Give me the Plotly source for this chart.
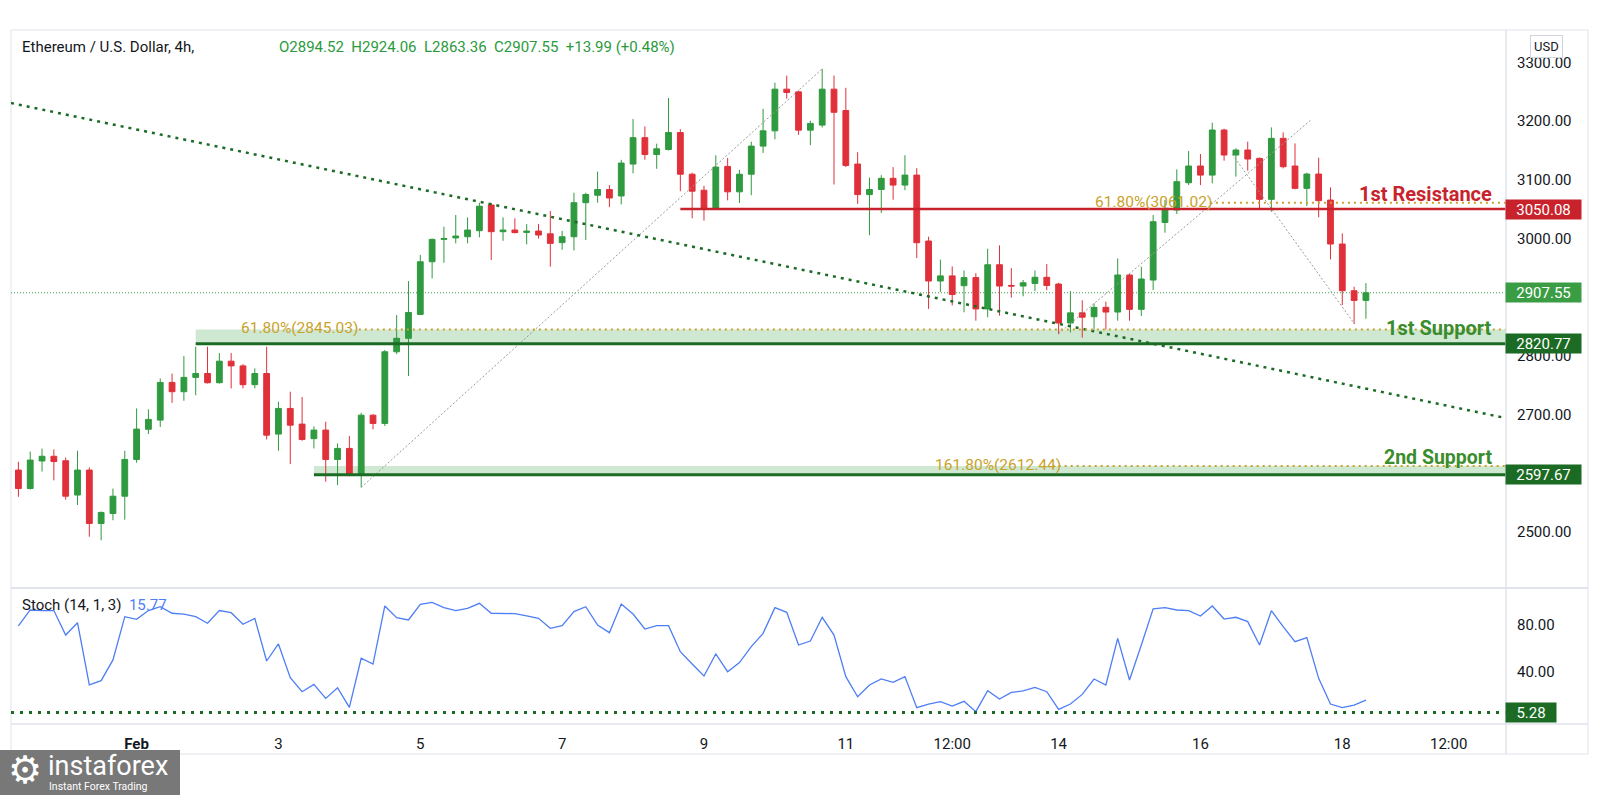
import pandas as pd
import plotly.graph_objects as go

W, H = 1600, 795
FONT = "Roboto, 'Noto Sans', sans-serif"

# ---------------- data ----------------
start_time = "2025-01-30 08:00"
opens = [2605.5, 2574.0, 2621.0, 2629.0, 2621.4, 2563.0, 2605.5, 2514.6, 2531.6, 2561.0,
         2623.6, 2675.0, 2690.6, 2754.8, 2739.0, 2763.4, 2770.0, 2754.3, 2791.0, 2783.0,
         2751.0, 2770.0, 2666.8, 2710.5, 2683.8, 2659.0, 2673.6, 2623.6, 2642.4, 2597.0,
         2699.0, 2685.0, 2807.0, 2830.0, 2870.7, 2960.4, 2998.5, 3001.0, 3003.0, 3013.3,
         3057.0, 3011.6, 3014.4, 3010.4, 3012.7, 3008.0, 2993.0, 3003.0, 3061.0, 3073.7,
         3083.5, 3072.5, 3126.8, 3171.8, 3143.0, 3151.6, 3180.5, 3109.5, 3082.3, 3051.7,
         3122.8, 3079.5, 3109.5, 3157.4, 3183.4, 3254.4, 3249.8, 3184.6, 3193.2, 3254.4,
         3218.0, 3126.8, 3074.8, 3083.5, 3102.5, 3091.0, 3108.0, 2995.7, 2927.6, 2936.3,
         2919.6, 2933.4, 2880.0, 2955.3, 2920.0, 2919.0, 2923.5, 2933.9, 2922.4, 2856.0,
         2873.3, 2866.8, 2882.7, 2874.7, 2937.8, 2879.3, 2929.2, 3027.3, 3048.5, 3095.0,
         3123.5, 3108.0, 3184.8, 3142.2, 3150.7, 3136.5, 3066.7, 3170.6, 3123.5, 3085.4,
         3109.8, 3065.5, 2990.6, 2911.0, 2894.52]
highs = [2619.6, 2637.0, 2642.0, 2640.6, 2627.0, 2638.4, 2610.0, 2535.0, 2574.0, 2638.4,
         2710.5, 2709.0, 2761.6, 2770.0, 2799.7, 2815.6, 2815.6, 2805.0, 2805.0, 2786.0,
         2778.7, 2815.6, 2722.0, 2739.0, 2730.0, 2680.0, 2687.8, 2651.0, 2663.4, 2703.0,
         2701.0, 2810.0, 2869.6, 2927.5, 2972.0, 3000.0, 3020.0, 3040.0, 3036.0, 3061.0,
         3060.0, 3036.0, 3034.3, 3024.6, 3024.6, 3046.8, 3013.0, 3078.0, 3078.0, 3114.0,
         3091.0, 3134.0, 3203.5, 3191.0, 3161.5, 3239.4, 3186.3, 3112.0, 3089.8, 3141.8,
         3137.2, 3117.0, 3165.0, 3221.0, 3265.4, 3277.5, 3252.0, 3200.7, 3289.0, 3277.5,
         3256.7, 3147.0, 3103.7, 3108.0, 3121.6, 3141.8, 3119.8, 3003.2, 2964.0, 2952.4,
         2945.5, 2940.9, 2982.5, 2988.3, 2949.5, 2929.3, 2945.5, 2956.4, 2924.6, 2910.3,
         2894.7, 2889.5, 2892.3, 2966.1, 2940.0, 2952.0, 3040.0, 3065.5, 3117.8, 3149.0,
         3143.9, 3197.3, 3187.0, 3153.6, 3164.9, 3138.0, 3189.3, 3180.8, 3162.0, 3112.0,
         3137.6, 3087.1, 3008.7, 2917.9, 2924.06]
lows = [2560.0, 2572.5, 2603.0, 2588.0, 2555.0, 2546.0, 2492.0, 2486.0, 2520.0, 2521.0,
        2618.0, 2667.0, 2679.0, 2720.0, 2723.6, 2733.0, 2753.0, 2753.0, 2744.6, 2744.6,
        2744.6, 2657.7, 2638.4, 2615.6, 2655.4, 2642.4, 2585.6, 2580.0, 2595.0, 2576.0,
        2675.0, 2680.5, 2803.0, 2765.6, 2869.6, 2932.0, 2958.7, 2991.7, 2991.7, 3002.0,
        2963.3, 2996.0, 3009.0, 2990.0, 3000.0, 2952.0, 2981.0, 2979.6, 2997.5, 3061.0,
        3053.5, 3058.0, 3111.0, 3134.0, 3118.7, 3150.0, 3080.6, 3034.4, 3030.4, 3050.6,
        3065.0, 3060.4, 3073.7, 3145.8, 3169.0, 3238.3, 3176.5, 3159.0, 3189.0, 3092.0,
        3121.6, 3059.0, 3005.5, 3043.6, 3066.0, 3082.3, 2966.8, 2880.0, 2909.0, 2886.0,
        2874.3, 2860.0, 2865.8, 2868.6, 2899.3, 2901.6, 2910.3, 2912.0, 2837.0, 2840.0,
        2831.2, 2845.0, 2845.0, 2860.0, 2860.0, 2867.9, 2912.2, 3009.9, 3041.7, 3091.0,
        3091.0, 3094.0, 3132.6, 3105.3, 3115.5, 3049.6, 3045.6, 3119.5, 3083.7, 3055.3,
        3036.0, 2964.4, 2886.6, 2854.3, 2863.36]
closes = [2574.0, 2622.5, 2629.0, 2620.0, 2561.0, 2605.5, 2514.6, 2533.3, 2561.0, 2623.6,
          2675.3, 2691.8, 2754.8, 2739.0, 2763.4, 2770.0, 2754.3, 2791.0, 2783.0, 2751.0,
          2770.0, 2665.0, 2710.5, 2682.0, 2657.7, 2673.6, 2623.6, 2642.4, 2598.6, 2699.0,
          2685.0, 2807.0, 2830.0, 2874.0, 2960.4, 2998.5, 3000.0, 3004.2, 3014.4, 3055.0,
          3011.6, 3014.4, 3010.0, 3012.6, 3005.9, 2991.7, 3003.0, 3061.0, 3075.0, 3083.5,
          3069.0, 3128.5, 3171.8, 3143.0, 3152.8, 3180.5, 3109.5, 3080.6, 3051.7, 3121.6,
          3079.5, 3109.5, 3157.4, 3183.4, 3254.4, 3248.7, 3184.6, 3196.0, 3254.4, 3215.0,
          3124.5, 3074.8, 3083.5, 3102.5, 3091.0, 3108.0, 2992.8, 2927.6, 2936.3, 2904.5,
          2933.4, 2880.0, 2955.3, 2919.0, 2919.0, 2924.6, 2933.9, 2920.0, 2856.0, 2873.3,
          2866.0, 2882.7, 2874.7, 2937.8, 2879.3, 2931.0, 3028.6, 3051.3, 3096.8, 3123.5,
          3108.0, 3184.8, 3142.2, 3150.7, 3135.4, 3066.7, 3170.6, 3122.3, 3085.4, 3109.8,
          3064.4, 2990.6, 2911.0, 2894.52, 2907.55]
stoch = [78.9, 92.5, 92.0, 92.0, 71.2, 81.7, 28.7, 32.4, 50.0, 86.8,
         84.5, 92.0, 95.3, 89.7, 89.0, 86.8, 81.2, 92.0, 90.2, 80.3,
         85.4, 49.1, 63.6, 34.9, 23.0, 29.2, 17.3, 26.4, 9.7, 51.4,
         46.5, 95.9, 86.0, 84.0, 97.3, 99.0, 94.5, 92.0, 93.9, 98.2,
         89.7, 89.7, 89.4, 87.4, 85.4, 76.9, 79.2, 91.1, 95.3, 79.7,
         73.2, 97.6, 89.1, 76.3, 79.2, 79.2, 57.0, 46.5, 36.3, 55.1,
         40.0, 47.7, 61.3, 72.6, 94.5, 90.5, 62.7, 66.1, 86.3, 71.2,
         35.8, 18.7, 28.7, 33.8, 30.9, 35.8, 9.4, 12.5, 14.5, 10.8,
         14.8, 6.0, 23.8, 16.7, 22.4, 23.6, 26.7, 23.0, 8.0, 12.5,
         20.7, 33.8, 28.7, 68.4, 32.9, 62.7, 93.4, 94.5, 92.5, 92.0,
         87.4, 95.9, 84.8, 86.3, 82.6, 62.7, 91.9, 78.3, 65.5, 69.0,
         34.3, 12.5, 9.4, 11.6, 15.77]

last_price = 2907.55
resistance1 = 3050.08
support1 = 2820.77
support2 = 2597.67
fib_res = 3061.02
fib_sup1 = 2845.03
fib_sup2 = 2612.44
stoch_level = 5.28
stoch_last = 15.77

header_title = "Ethereum / U.S. Dollar, 4h,"
header_values = ["O2894.52", "H2924.06", "L2863.36", "C2907.55", "+13.99 (+0.48%)"]

tick_times = ["2025-02-01 00:00", "2025-02-03 00:00", "2025-02-05 00:00", "2025-02-07 00:00",
              "2025-02-09 00:00", "2025-02-11 00:00", "2025-02-12 12:00", "2025-02-14 00:00",
              "2025-02-16 00:00", "2025-02-18 00:00", "2025-02-19 12:00"]
tick_labels = ["<b>Feb</b>", "3", "5", "7", "9", "11", "12:00", "14", "16", "18", "12:00"]
price_ticks = [2500, 2700, 2800, 3000, 3100, 3200, 3300]
stoch_ticks = [40, 80]

# drawing anchors (fractional candle index, price)
trend_line = [(-0.626, 3230.8), (125.85, 2694.0)]
fib_lines = [[(29, 2576.0), (68, 3289.0)],
             [(88, 2838.0), (109.3, 3201.0)],
             [(102.7, 3143.0), (113.05, 2854.0)]]
# (label start index, dotted-line start index, level, percent)
fib_levels = [(90.9, 100.8, fib_res, "61.80%"),
              (18.66, 28.8, fib_sup1, "61.80%"),
              (77.4, 87.5, fib_sup2, "161.80%")]

times = pd.date_range(start_time, periods=len(opens), freq="4h")


def t_at(idx):
    return times[0] + pd.Timedelta(hours=4 * idx)


def px(X):
    return X / W


def py(Y):
    return 1 - Y / H


# ---------------- colours ----------------
C_UP = "#2f9a3f"
C_DN = "#e0303a"
C_RES = "#c8232c"
C_DKG = "#1c6b25"
C_LAST = "#3a9d44"
C_GOLD = "#c9a22a"
C_ZONE = "rgba(70,165,80,0.26)"
C_STOCH = "#4d7ef5"
C_TXT = "#131722"
C_FRAME = "#e0e3eb"

x_left = t_at(-0.626)
x_right = t_at(125.85)

fig = go.Figure()

fig.add_trace(go.Candlestick(
    x=times, open=opens, high=highs, low=lows, close=closes,
    increasing=dict(line=dict(color=C_UP, width=1), fillcolor=C_UP),
    decreasing=dict(line=dict(color=C_DN, width=1), fillcolor=C_DN),
    hoverinfo="skip", showlegend=False, xaxis="x", yaxis="y"))

fig.add_trace(go.Scatter(
    x=times, y=stoch, mode="lines", line=dict(color=C_STOCH, width=1.3),
    hoverinfo="skip", showlegend=False, xaxis="x", yaxis="y2"))

shapes = []
# zones
shapes.append(dict(type="rect", xref="x", yref="y", x0=times[15], x1=x_right,
                   y0=support1, y1=fib_sup1, fillcolor=C_ZONE, line=dict(width=0), layer="below"))
shapes.append(dict(type="rect", xref="x", yref="y", x0=times[25], x1=x_right,
                   y0=support2, y1=fib_sup2, fillcolor=C_ZONE, line=dict(width=0), layer="below"))
# last price dotted
shapes.append(dict(type="line", xref="x", yref="y", x0=x_left, x1=x_right, y0=last_price, y1=last_price,
                   line=dict(color=C_LAST, width=1, dash="1px,2px"), layer="below"))
# gray fib trend lines
for (a, b) in fib_lines:
    shapes.append(dict(type="line", xref="x", yref="y", x0=t_at(a[0]), y0=a[1], x1=t_at(b[0]), y1=b[1],
                       line=dict(color="#9a9a9a", width=1, dash="2px,2px")))
# main dotted trendline
shapes.append(dict(type="line", xref="x", yref="y",
                   x0=t_at(trend_line[0][0]), y0=trend_line[0][1],
                   x1=t_at(trend_line[1][0]), y1=trend_line[1][1],
                   line=dict(color=C_DKG, width=2.5, dash="3px,5px")))
# golden fib levels
for lab_i, line_i, lvl, pct in fib_levels:
    shapes.append(dict(type="line", xref="x", yref="y", x0=t_at(line_i), x1=x_right, y0=lvl, y1=lvl,
                       line=dict(color=C_GOLD, width=2, dash="2px,4px")))
# level lines
shapes.append(dict(type="line", xref="x", yref="y", x0=times[56], x1=x_right, y0=resistance1, y1=resistance1,
                   line=dict(color=C_RES, width=2.5)))
shapes.append(dict(type="line", xref="x", yref="y", x0=times[15], x1=x_right, y0=support1, y1=support1,
                   line=dict(color=C_DKG, width=3)))
shapes.append(dict(type="line", xref="x", yref="y", x0=times[25], x1=x_right, y0=support2, y1=support2,
                   line=dict(color=C_DKG, width=3)))
# stoch level
shapes.append(dict(type="line", xref="x", yref="y2", x0=x_left, x1=x_right, y0=stoch_level, y1=stoch_level,
                   line=dict(color=C_DKG, width=3, dash="3px,6px")))
# frame
shapes.append(dict(type="rect", xref="paper", yref="paper", x0=px(11), x1=px(1588), y0=py(754), y1=py(30),
                   line=dict(color=C_FRAME, width=1), layer="below"))
shapes.append(dict(type="line", xref="paper", yref="paper", x0=px(1506), x1=px(1506), y0=py(754), y1=py(30),
                   line=dict(color=C_FRAME, width=1.5)))
shapes.append(dict(type="line", xref="paper", yref="paper", x0=px(11), x1=px(1588), y0=py(588), y1=py(588),
                   line=dict(color=C_FRAME, width=2)))
shapes.append(dict(type="line", xref="paper", yref="paper", x0=px(11), x1=px(1588), y0=py(724), y1=py(724),
                   line=dict(color=C_FRAME, width=1.5)))
# logo box
shapes.append(dict(type="rect", xref="paper", yref="paper", x0=px(0), x1=px(180), y0=py(795), y1=py(750),
                   fillcolor="#787878", line=dict(width=0), layer="above"))

ann = []
# header
ann.append(dict(xref="paper", yref="paper", x=px(20), y=py(47), xanchor="left", yanchor="middle",
                text=header_title, showarrow=False, font=dict(family=FONT, size=15, color=C_TXT)))
ann.append(dict(xref="paper", yref="paper", x=px(277), y=py(47), xanchor="left", yanchor="middle",
                text="&nbsp;&nbsp;".join(header_values), showarrow=False,
                font=dict(family=FONT, size=15, color="#2a9a3c")))
# stoch label
ann.append(dict(xref="paper", yref="paper", x=px(20), y=py(605), xanchor="left", yanchor="middle",
                text="Stoch (14, 1, 3)&nbsp;&nbsp;<span style='color:%s'>%.2f</span>" % (C_STOCH, stoch_last),
                showarrow=False, font=dict(family=FONT, size=15, color=C_TXT)))
# USD
ann.append(dict(xref="paper", yref="paper", x=px(1546), y=py(47), xanchor="center", yanchor="middle",
                text="USD", showarrow=False, bgcolor="white", bordercolor="#d1d4dc", borderwidth=1,
                borderpad=3, font=dict(family=FONT, size=13, color=C_TXT)))
# fib labels
for lab_i, line_i, lvl, pct in fib_levels:
    ann.append(dict(xref="x", yref="y", x=t_at(lab_i), y=lvl, xanchor="left", yanchor="middle",
                    text="%s(%.2f)" % (pct, lvl), showarrow=False, yshift=1,
                    font=dict(family=FONT, size=15.5, color=C_GOLD)))
# level names
for lvl, txt, col, ys, fs in [(fib_res, "1st Resistance", C_RES, 8.5, 20),
                              (fib_sup1, "1st Support", "#3b8c2c", 1.5, 20),
                              (fib_sup2, "2nd Support", "#3b8c2c", 9, 19.5)]:
    ann.append(dict(xref="paper", yref="y", x=px(1494), y=lvl, xanchor="right", yanchor="middle",
                    text="<b>%s</b>" % txt, showarrow=False, yshift=ys,
                    font=dict(family=FONT, size=fs, color=col)))
# axis boxes
for lvl, col in [(resistance1, C_RES), (last_price, C_LAST), (support1, C_DKG), (support2, C_DKG)]:
    ann.append(dict(xref="paper", yref="y", x=px(1505), y=lvl, xanchor="left", yanchor="middle",
                    text="%.2f" % lvl, showarrow=False, bgcolor=col, width=73, height=17,
                    borderpad=1, align="center", font=dict(family=FONT, size=15, color="white")))
ann.append(dict(xref="paper", yref="y2", x=px(1505), y=stoch_level, xanchor="left", yanchor="middle",
                text="%.2f" % stoch_level, showarrow=False, bgcolor=C_DKG, width=48, height=17,
                borderpad=1, align="center", font=dict(family=FONT, size=15, color="white")))
# logo
ann.append(dict(xref="paper", yref="paper", x=px(25), y=py(770), xanchor="center", yanchor="middle",
                text="\u2699", showarrow=False, font=dict(family="DejaVu Sans", size=38, color="white")))
ann.append(dict(xref="paper", yref="paper", x=px(46), y=py(766), xanchor="left", yanchor="middle",
                text="instaforex", showarrow=False, font=dict(family=FONT, size=27, color="white")))
ann.append(dict(xref="paper", yref="paper", x=px(47), y=py(786), xanchor="left", yanchor="middle",
                text="Instant Forex Trading", showarrow=False, font=dict(family=FONT, size=10.5, color="white")))

axis_font = dict(family=FONT, size=15, color=C_TXT)
fig.update_layout(
    width=W, height=H, autosize=False,
    margin=dict(l=0, r=0, t=0, b=0, pad=0),
    paper_bgcolor="white", plot_bgcolor="white",
    showlegend=False,
    shapes=shapes, annotations=ann,
    xaxis=dict(domain=[px(11), px(1506)], range=[x_left, x_right], anchor="y2",
               showgrid=False, zeroline=False, showline=False, ticks="",
               tickmode="array", tickvals=tick_times, ticktext=tick_labels,
               tickfont=axis_font, ticklabelstandoff=9,
               rangeslider=dict(visible=False), fixedrange=True),
    yaxis=dict(domain=[py(588), py(30)], range=[2404.6, 3355.2], side="right", anchor="x",
               showgrid=False, zeroline=False, showline=False, ticks="",
               tickmode="array", tickvals=price_ticks,
               ticktext=["%.2f" % v for v in price_ticks],
               tickfont=axis_font, ticklabelstandoff=10),
    yaxis2=dict(domain=[py(724), py(588)], range=[-4.5, 111.2], side="right", anchor="x",
                showgrid=False, zeroline=False, showline=False, ticks="",
                tickmode="array", tickvals=stoch_ticks, ticktext=["%.2f" % v for v in stoch_ticks],
                tickfont=axis_font, ticklabelstandoff=10),
)

fig.write_html("out.html")
